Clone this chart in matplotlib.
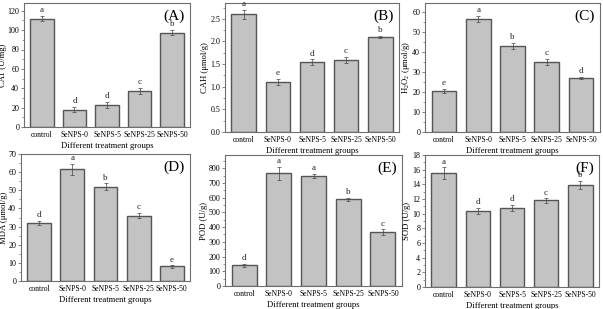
import matplotlib
matplotlib.use("Agg")
import matplotlib.pyplot as plt
import numpy as np
from matplotlib.ticker import MultipleLocator, FormatStrFormatter

plt.rcParams['font.family'] = ['Liberation Serif', 'DejaVu Serif']
plt.rcParams['mathtext.fontset'] = 'custom'
plt.rcParams['mathtext.rm'] = 'Liberation Serif'

groups = ["control", "SeNPS-0", "SeNPS-5", "SeNPS-25", "SeNPS-50"]

cat_vals = [112, 18, 23, 37.5, 97.5]
cat_err = [3, 3, 3, 3, 3]
cat_let = ["a", "d", "d", "c", "b"]

cah_vals = [2.6, 1.1, 1.55, 1.59, 2.1]
cah_err = [0.1, 0.07, 0.06, 0.07, 0.02]
cah_let = ["a", "e", "d", "c", "b"]

h2o2_vals = [20.5, 56.5, 43, 35, 27]
h2o2_err = [1.0, 1.6, 1.6, 1.6, 0.7]
h2o2_let = ["e", "a", "b", "c", "d"]

mda_vals = [32, 61.5, 52, 36, 8]
mda_err = [1.3, 3.0, 2.0, 1.5, 0.8]
mda_let = ["d", "a", "b", "c", "e"]

pod_vals = [140, 765, 748, 590, 365]
pod_err = [10, 45, 15, 10, 20]
pod_let = ["d", "a", "a", "b", "c"]

sod_vals = [15.5, 10.4, 10.8, 11.8, 13.9]
sod_err = [0.8, 0.4, 0.4, 0.3, 0.6]
sod_let = ["a", "d", "d", "c", "b"]

W, H = 603, 309
fig = plt.figure(figsize=(W / 100, H / 100), dpi=100)

panels = [
    # (left, right, top, bottom) px, vals, err, letters, ylabel, ymax, major, fmt, tag
    ((24, 190, 3, 127), cat_vals, cat_err, cat_let, "CAT (U/mg)", 128, 20, "%d", "(A)"),
    ((225, 399, 3, 132), cah_vals, cah_err, cah_let, "CAH (μmol/g)", 2.85, 0.5, "%.1f", "(B)"),
    ((425, 600, 3, 132), h2o2_vals, h2o2_err, h2o2_let, "H$_2$O$_2$ (μmol/g)", 64.5, 10, "%d", "(C)"),
    ((21, 190, 154, 281), mda_vals, mda_err, mda_let, "MDA (μmol/g)", 70, 10, "%d", "(D)"),
    ((225, 402, 155, 286), pod_vals, pod_err, pod_let, "POD (U/g)", 890, 100, "%d", "(E)"),
    ((425, 599, 155, 287), sod_vals, sod_err, sod_let, "SOD (U/g)", 18, 2, "%d", "(F)"),
]

edge = "#6e6e6e"
for (l, r, t, b), vals, err, lets, ylab, ymax, major, fmt, tag in panels:
    ax = fig.add_axes([l / W, 1 - b / H, (r - l) / W, (b - t) / H])
    x = np.arange(len(groups))
    ax.bar(x, vals, width=0.72, color="#c3c3c3", edgecolor="#555555", linewidth=1.0, zorder=2)
    ax.errorbar(x, vals, yerr=err, fmt="none", ecolor="#444444", elinewidth=0.5,
                capsize=1.2, capthick=0.5, zorder=3)
    for xi, v, e, s in zip(x, vals, err, lets):
        ax.text(xi, v + e + ymax * 0.012, s, ha="center", va="bottom", fontsize=6.5, color="#222222")
    ax.set_xlim(-0.55, 4.55)
    ax.set_ylim(0, ymax)
    ax.set_xticks(x)
    ax.set_xticklabels(groups, fontsize=5.5)
    ax.tick_params(axis="x", length=0, pad=3)
    ax.yaxis.set_major_locator(MultipleLocator(major))
    ax.yaxis.set_minor_locator(MultipleLocator(major / 2))
    ax.yaxis.set_major_formatter(FormatStrFormatter(fmt))
    ax.tick_params(axis="y", which="major", length=2.5, width=0.6, labelsize=5.8, pad=1.0, color=edge)
    ax.tick_params(axis="y", which="minor", length=1.5, width=0.5, color=edge)
    ax.set_ylabel(ylab, fontsize=6.2, labelpad=0.5)
    ax.set_xlabel("Different treatment groups", fontsize=6.2, labelpad=2)
    for sp in ax.spines.values():
        sp.set_color(edge)
        sp.set_linewidth(0.8)
    ax.text(0.97, 0.95, tag, transform=ax.transAxes, ha="right", va="top", fontsize=11)

fig.savefig("out.png", dpi=100)
